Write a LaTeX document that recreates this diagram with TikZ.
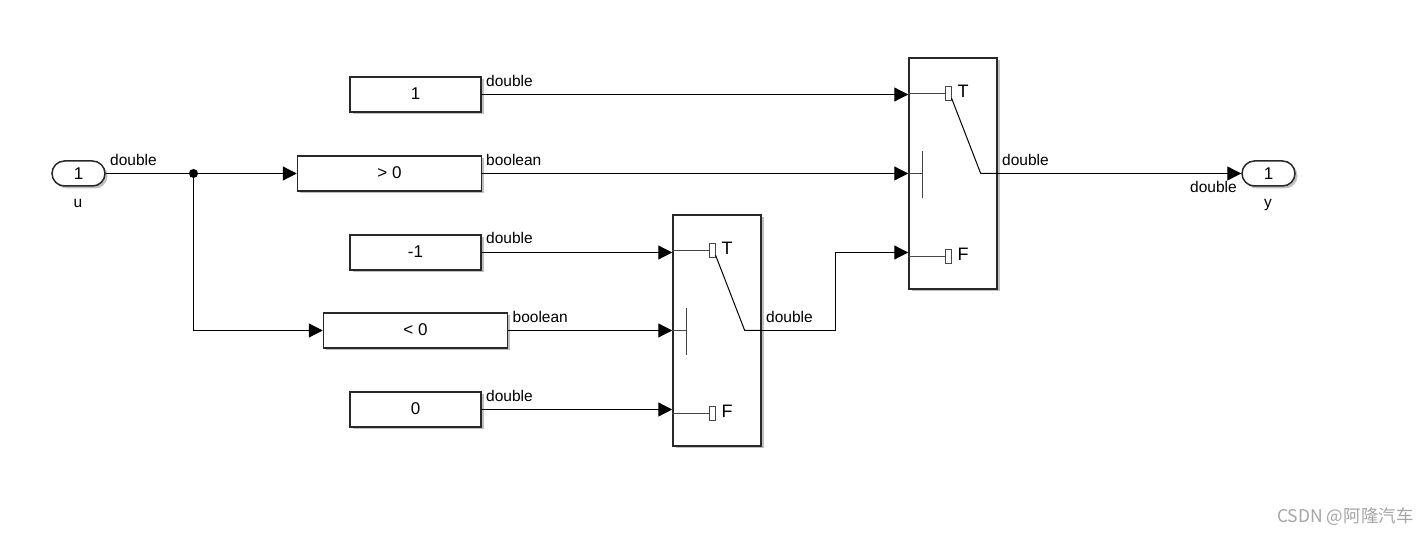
\documentclass[tikz,border=0pt]{standalone}
\usepackage{fontspec}
\setmainfont{Liberation Sans}
\newfontfamily\cjk{Noto Sans CJK SC}
\usepackage{xcolor}
\usetikzlibrary{arrows.meta,calc,positioning,shadows}
\definecolor{edg}{RGB}{40,40,40}
\definecolor{stb}{RGB}{70,70,70}
\definecolor{wmk}{RGB}{165,165,165}
\tikzset{
  blockbox/.style={draw=edg,line width=1.5pt,fill=white,minimum height=35pt,inner sep=0pt,text depth=1pt,
    font=\fontsize{17}{18}\selectfont,drop shadow={shadow xshift=2.5pt,shadow yshift=-2.5pt,opacity=.25,fill=black}},
  portbox/.style={blockbox,text depth=0pt,rounded corners=12.5pt,minimum width=53pt,minimum height=25pt},
  swbox/.style={blockbox,minimum width=88pt,minimum height=231pt},
  pinbox/.style={draw=stb,line width=1pt,fill=white,minimum width=6pt,minimum height=14pt,inner sep=0pt},
  siglabel/.style={font=\fontsize{15.5}{18}\selectfont,anchor=base west,inner sep=0pt},
  pinlabel/.style={font=\fontsize{18}{20}\selectfont,anchor=base west,inner sep=0pt},
  sigline/.style={line width=1.2pt,-{Triangle[length=14pt,width=14pt]}},
  plainline/.style={line width=1.2pt},
  stubline/.style={line width=1.1pt,draw=stb}
}
\begin{document}
\begin{tikzpicture}[x=1pt,y=-1pt]
  \useasboundingbox[fill=white] (0,0) rectangle (1428,534);
  % ports and dot
  \node[portbox] (inu) at (78.5,173.5) {1};
  \node[portbox] (outy) at (1268.5,173.5) {1};
  \node[siglabel,anchor=base] (nameu) at (78,207.5) {u};
  \node[siglabel,anchor=base] (namey) at (1268,207.5) {y};
  \fill (193.5,173.5) circle (4.5pt) coordinate (dot);
  % constants and compares
  \node[blockbox,minimum width=131pt] (cone) at (415.5,94.5) {1};
  \node[blockbox,minimum width=184pt] (cmpgt) at (389.5,173.5) {> 0};
  \node[blockbox,minimum width=131pt] (cneg) at (415.5,252.5) {-1};
  \node[blockbox,minimum width=184pt] (cmplt) at (415.5,330.5) {< 0};
  \node[blockbox,minimum width=131pt] (czero) at (415.5,409.5) {0};
  % switches
  \foreach \sw/\dx/\dy in {swa/0/0,swb/-236/157}{
    \begin{scope}[shift={(\dx,\dy)}]
      \node[swbox] (\sw) at (953,173.5) {};
      \node[pinbox] (\sw-T) at (948.5,93.5) {};
      \node[pinbox] (\sw-F) at (948.5,256.5) {};
      \node[pinlabel] (\sw-Tl) at (957.5,97.5) {T};
      \node[pinlabel] (\sw-Fl) at (957.5,260.5) {F};
      \coordinate (\sw-j) at (980.7,173.5);
      \coordinate (\sw-arm) at (951.5,98);
      \coordinate (\sw-bar) at (922.5,173.5);
      \coordinate (\sw-top) at (922.5,151.5);
      \coordinate (\sw-bot) at (922.5,198.5);
      \draw[stubline] (\sw.west |- \sw-T.west) -- (\sw-T.west);
      \draw[stubline] (\sw.west |- \sw-F.west) -- (\sw-F.west);
      \draw[stubline] (\sw.west |- \sw-bar) -- (\sw-bar);
      \draw[stubline] (\sw-top) -- (\sw-bot);
      \draw[plainline,line width=1pt] (\sw-arm) -- (\sw-j) -- (\sw.east |- \sw-j);
    \end{scope}
  }
  % signals
  \coordinate (elbow) at (835.5,330.5);
  \draw[plainline] (inu.east) -- (dot);
  \draw[sigline] (dot) -- (cmpgt.west);
  \draw[sigline] (dot) |- (cmplt.west);
  \draw[sigline] (cone.east) -- (cone.east -| swa.west);
  \draw[sigline] (cmpgt.east) -- (cmpgt.east -| swa.west);
  \draw[sigline] (cneg.east) -- (cneg.east -| swb.west);
  \draw[sigline] (cmplt.east) -- (cmplt.east -| swb.west);
  \draw[sigline] (czero.east) -- (czero.east -| swb.west);
  \draw[sigline] (swb.east |- swb-j) -- (elbow) |- (cneg.east -| swa.west);
  \draw[sigline] (swa.east |- swa-j) -- (outy.west);
  % labels
  \node[siglabel] (la) at (110,166) {double};
  \node[siglabel] (lb) at (486,87) {double};
  \node[siglabel] (lc) at (486,166) {boolean};
  \node[siglabel] (ld) at (486,244) {double};
  \node[siglabel] (le) at (512.5,323) {boolean};
  \node[siglabel] (lf) at (486,402) {double};
  \node[siglabel] (lg) at (766,323) {double};
  \node[siglabel] (lh) at (1002,166) {double};
  \node[siglabel] (li) at (1190,193) {double};
  \node[siglabel,text=wmk,font=\fontsize{17.5}{20}\selectfont\cjk] (mark) at (1277,522) {CSDN @阿隆汽车};
\end{tikzpicture}
\end{document}
